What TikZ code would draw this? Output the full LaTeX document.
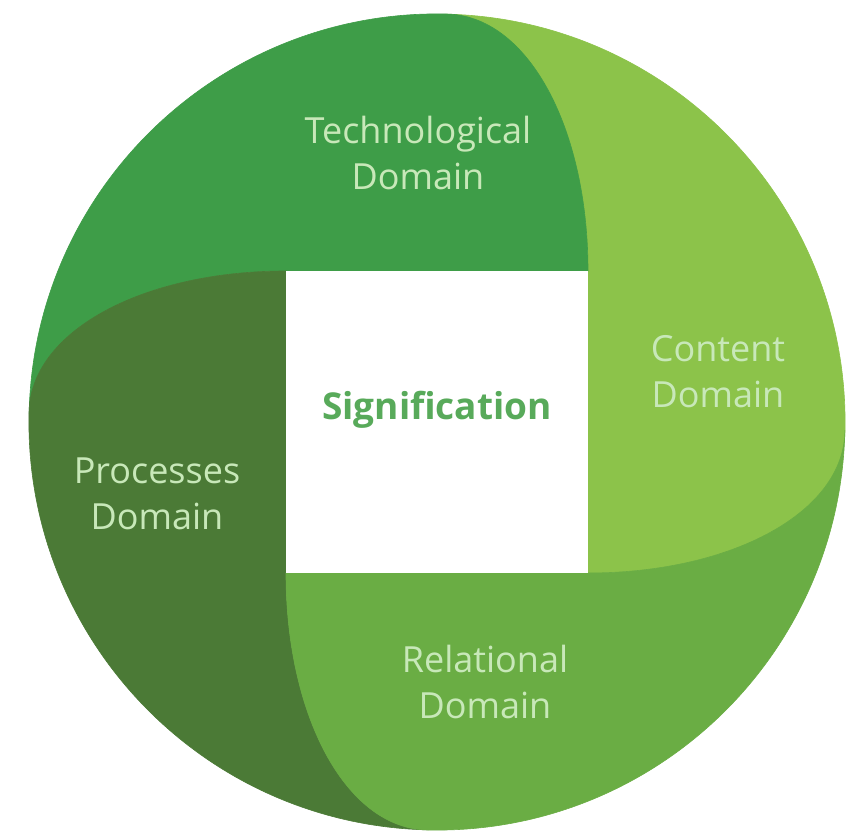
\documentclass[tikz,border=0pt]{standalone}
\usepackage{fontspec}
\setmainfont{Open Sans}
\definecolor{techgreen}{RGB}{62,157,72}
\definecolor{contentgreen}{RGB}{140,195,74}
\definecolor{relgreen}{RGB}{106,173,68}
\definecolor{procgreen}{RGB}{75,122,54}
\definecolor{labelgreen}{RGB}{200,232,185}
\definecolor{titlegreen}{RGB}{88,170,90}
\begin{document}
\begin{tikzpicture}[
		x=1pt, y=1pt,
		every node/.style={align=center, text=labelgreen, font=\fontsize{36}{46}\selectfont}
	]
	\useasboundingbox (-437,-410) rectangle (424,422);

	\foreach \ang/\col in {
		0/contentgreen,
		90/techgreen,
		180/procgreen,
		270/relgreen}
		\filldraw[\col, line width=0.6pt, rotate=\ang]
			(151,151) -- (151,-151)
			.. controls (295,-151) and (408,-90) .. (408,-8)
			arc[start angle=-1.12, end angle=88.88, radius=408]
			.. controls (90,408) and (151,295) .. (151,151) -- cycle;

	\fill[white] (-151,-151) rectangle (151,151);

	\node (tech) at (-19,269)	{Technological\\Domain};
	\node (cont) at (281,50)	{Content\\Domain};
	\node (proc) at (-280,-72)	{Processes\\Domain};
	\node (rel) at (48,-260)	{Relational\\Domain};
	\node[text=titlegreen, font=\fontsize{37}{44}\selectfont\bfseries] (sig) at (0,12) {Signification};

\end{tikzpicture}
\end{document}
